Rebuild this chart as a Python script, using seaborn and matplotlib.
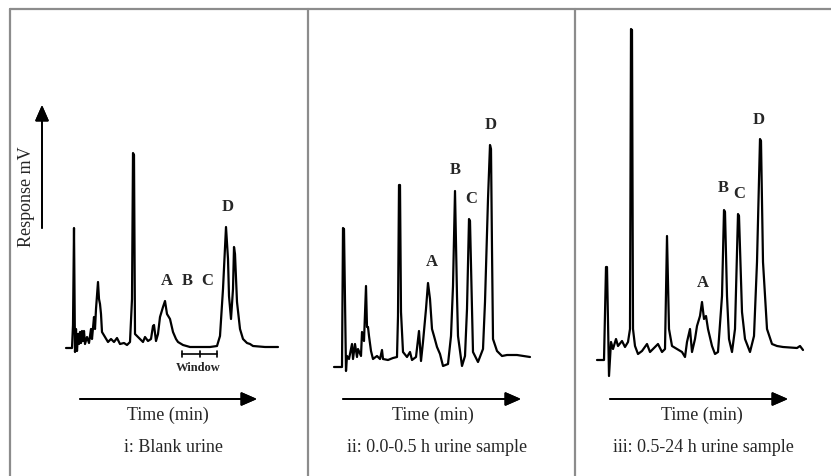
import matplotlib
matplotlib.use("Agg")
import matplotlib.pyplot as plt
import seaborn as sns
import pandas as pd
from matplotlib.lines import Line2D

sns.set_theme(style="white")
plt.rcParams['font.family'] = ['Liberation Serif', 'DejaVu Serif']

# chromatogram traces: time (min) vs response (mV)
blank_t = [0.6, 1.2, 1.3, 1.4, 1.5, 1.6, 1.7, 1.8, 1.9, 2.0, 2.1, 2.2, 2.3, 2.4, 2.5, 2.7, 2.9, 3.1, 3.2,
           3.4, 3.5, 3.6, 3.8, 3.9, 4.0, 4.1, 4.2, 4.5, 4.8, 5.1, 5.4, 5.7, 6.0, 6.4, 6.7, 7.0, 7.2, 7.3,
           7.4, 7.5, 8.0, 8.3, 8.5, 8.8, 9.1, 9.3, 9.4, 9.6, 9.8, 10.0, 10.3, 10.5, 10.7, 11.0, 11.3,
           11.6, 11.8, 12.3, 13.0, 14.0, 15.0, 15.7, 16.0, 16.3, 16.6, 16.8, 16.9, 17.1, 17.3, 17.4,
           17.5, 17.7, 18.0, 18.3, 18.7, 19.0, 19.3, 20.5, 21.8]
blank_mv = [31, 31, 54, 151, 27, 50, 28, 45, 35, 47, 36, 48, 38, 48, 35, 42, 36, 50, 40,
            62, 50, 70, 97, 80, 75, 65, 47, 42, 37, 40, 37, 41, 35, 36, 34, 37, 80, 226,
            224, 45, 40, 37, 42, 38, 40, 53, 54, 38, 45, 62, 72, 78, 65, 60, 47,
            40, 37, 34, 32, 32, 32, 33, 43, 90, 152, 120, 83, 60, 90, 132,
            125, 77, 50, 40, 36, 35, 33, 32, 32]

early_t = [0.6, 1.4, 1.5, 1.6, 1.8, 1.9, 2.1, 2.4, 2.5, 2.7, 2.9, 3.0, 3.3, 3.4, 3.6, 3.8, 3.9, 4.0,
           4.1, 4.3, 4.5, 4.9, 5.2, 5.4, 5.5, 6.0, 6.5, 6.9, 7.0, 7.1, 7.2, 7.3, 7.5, 7.9, 8.2, 8.4,
           8.8, 9.1, 9.3, 9.5, 9.8, 10.0, 10.2, 10.4, 10.6, 10.9, 11.2, 11.5, 12.0, 12.3, 12.5, 12.7,
           12.9, 13.0, 13.4, 13.7, 13.9, 14.1, 14.2, 14.4, 14.5, 15.0, 15.5, 15.7, 16.0, 16.2, 16.3,
           16.4, 16.5, 16.9, 17.4, 17.9, 18.9, 20.2]
early_mv = [12, 12, 151, 150, 8, 23, 20, 35, 20, 35, 22, 30, 23, 47, 38, 93, 52, 52,
            43, 28, 20, 23, 20, 29, 20, 19, 21, 22, 63, 194, 194, 67, 27, 22, 27, 19,
            22, 48, 18, 37, 70, 96, 80, 50, 43, 32, 25, 13, 15, 43, 93, 188,
            83, 43, 13, 23, 70, 160, 158, 70, 27, 17, 30, 77, 180, 234, 230,
            130, 40, 28, 23, 24, 24, 22]

late_t = [0.5, 1.2, 1.4, 1.5, 1.7, 1.9, 2.1, 2.4, 2.6, 3.0, 3.3, 3.6, 3.8, 3.9, 4.0, 4.1, 4.3, 4.6,
          5.0, 5.5, 5.8, 6.3, 6.6, 7.0, 7.3, 7.5, 7.7, 8.0, 8.5, 9.0, 9.3, 9.5, 9.8, 10.0, 10.3,
          10.5, 10.8, 11.0, 11.2, 11.4, 11.6, 12.0, 12.3, 12.6, 13.0, 13.2, 13.3, 13.5, 13.7, 14.0,
          14.3, 14.6, 14.7, 15.0, 15.3, 15.8, 16.2, 16.5, 16.8, 16.9, 17.1, 17.5, 18.0, 18.5, 19.1,
          20.5, 20.8, 21.1]
late_mv = [19, 19, 112, 112, 3, 37, 30, 40, 33, 38, 32, 37, 50, 350, 349, 50, 33, 25,
           28, 35, 27, 32, 35, 27, 30, 143, 50, 33, 30, 27, 22, 37, 50, 27, 40,
           53, 63, 77, 60, 63, 50, 33, 25, 27, 83, 169, 167, 83, 40, 27,
           50, 165, 163, 67, 40, 27, 43, 117, 240, 238, 117, 50, 35, 33, 32,
           31, 33, 29]

peak_names = ['A', 'B', 'C', 'D']
blank_lbl_t = [10.7, 12.7, 14.7, 16.8]
blank_lbl_mv = [99, 99, 99, 173]
early_lbl_t = [10.4, 12.7, 14.3, 16.3]
early_lbl_mv = [118, 210, 181, 255]
late_lbl_t = [11.1, 13.1, 14.7, 16.7]
late_lbl_mv = [97, 192, 186, 260]

captions = ['i: Blank urine', 'ii: 0.0-0.5 h urine sample', 'iii: 0.5-24 h urine sample']

W, H = 831, 477
fig = plt.figure(figsize=(W / 100, H / 100), dpi=100)

def fx(px):
    return px / W

def fy(py):
    return 1 - py / H

panels = [
    (60, blank_t, blank_mv, blank_lbl_t, blank_lbl_mv),
    (328, early_t, early_mv, early_lbl_t, early_lbl_mv),
    (592, late_t, late_mv, late_lbl_t, late_lbl_mv),
]
axes = []
for px0, t, mv, lt, lmv in panels:
    ax = fig.add_axes([fx(px0), fy(380), 230 / W, 360 / H])
    df = pd.DataFrame({'t': t, 'mv': mv})
    sns.lineplot(data=df, x='t', y='mv', ax=ax, color='black', lw=1.6, estimator=None, sort=False)
    for name, x, y in zip(peak_names, lt, lmv):
        ax.text(x, y, name, ha='center', va='center', fontsize=12, fontweight='bold')
    ax.set_xlim(0, 23)
    ax.set_ylim(0, 360)
    ax.axis('off')
    axes.append(ax)

# integration window under B/C in the blank run
ax0 = axes[0]
ax0.plot([12.2, 15.7], [25, 25], color='black', lw=1.2)
for x in [12.2, 14.0, 15.7]:
    ax0.plot([x, x], [22, 28], color='black', lw=1.2)
ax0.text(13.8, 12, 'Window', ha='center', va='center', fontsize=9, fontweight='bold')

# frame lines
grey = '#8c8c8c'
fig.add_artist(Line2D([fx(10), 1], [fy(10), fy(10)], color=grey, lw=1.6))
for px in [10, 308, 575]:
    fig.add_artist(Line2D([fx(px), fx(px)], [fy(10), 0], color=grey, lw=1.6))

arrow = dict(arrowstyle='-|>,head_length=0.8,head_width=0.35', color='black', lw=1.3,
             shrinkA=0, shrinkB=0)
# response axis arrow (first panel only)
fig.add_artist(plt.annotate('', xy=(fx(42), fy(106)), xytext=(fx(42), fy(229)),
                            xycoords='figure fraction', arrowprops=arrow))
fig.text(fx(27), fy(197), 'Response mV', rotation=90, ha='center', va='center', fontsize=13)

# time arrows and captions
for (x1, x2), tx, cx, cap in zip([(80, 257), (343, 521), (610, 788)], [168, 433, 702],
                                 [173, 437, 703], captions):
    fig.add_artist(plt.annotate('', xy=(fx(x2), fy(400)), xytext=(fx(x1), fy(400)),
                                xycoords='figure fraction', arrowprops=arrow))
    fig.text(fx(tx), fy(415), 'Time (min)', ha='center', va='center', fontsize=13)
    fig.text(fx(cx), fy(448), cap, ha='center', va='center', fontsize=13)

fig.savefig('out.png', dpi=100)
